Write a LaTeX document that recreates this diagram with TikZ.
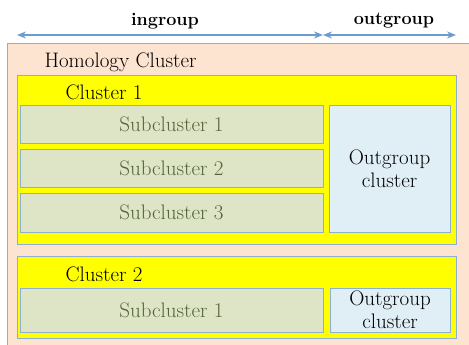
\documentclass[tikz,border=0pt]{standalone}
\usetikzlibrary{arrows.meta}
\definecolor{peach}{HTML}{FCE4D0}
\definecolor{ylw}{HTML}{FFFF00}
\definecolor{subfill}{HTML}{DDE5C6}
\definecolor{subtext}{HTML}{55633A}
\definecolor{outfill}{HTML}{E0EFF6}
\definecolor{edge}{HTML}{8DB0D0}
\definecolor{arr}{HTML}{6C9BCF}
\begin{document}
\begin{tikzpicture}[x=1pt,y=-1pt,
  box/.style={draw=edge,line width=0.8pt},
  subbox/.style={box,fill=subfill},
  outbox/.style={box,fill=outfill},
  clbox/.style={box,fill=ylw},
  subtxt/.style={text=subtext,font=\fontsize{21}{23}\selectfont},
  otxt/.style={align=center,font=\fontsize{21}{23}\selectfont},
  lbl/.style={font=\fontsize{21}{23}\selectfont,anchor=west},
  hdr/.style={font=\bfseries\fontsize{18}{20}\selectfont},
  dim/.style={{Stealth[length=9pt,width=7pt]}-{Stealth[length=9pt,width=7pt]},draw=arr,line width=1.6pt}]
\useasboundingbox (0,0) rectangle (469,345);
\fill[peach] (7,43) rectangle (469,345);
\draw[edge,line width=0.8pt] (7,345) -- (7,43) -- (469,43);
% Cluster 1
\draw[clbox] (17,75) rectangle (456,244);
\node[lbl] (c1) at (62,92) {Cluster 1};
\draw[subbox] (20,105) rectangle node[subtxt] (s1) {Subcluster 1} (323,143);
\draw[subbox] (20,149) rectangle node[subtxt] (s2) {Subcluster 2} (323,187);
\draw[subbox] (20,193) rectangle node[subtxt] (s3) {Subcluster 3} (323,232);
\draw[outbox] (329,105) rectangle node[otxt] (o1) {Outgroup\\cluster} (450,232);
% Cluster 2
\draw[clbox] (17,256) rectangle (456,338);
\node[lbl] (c2) at (62,274) {Cluster 2};
\draw[subbox] (20,288) rectangle node[subtxt] (s4) {Subcluster 1} (323,332);
\draw[outbox] (330,288) rectangle node[otxt] (o2) {Outgroup\\cluster} (450,332);
% Homology label
\node[lbl] (hc) at (41,62) {Homology Cluster};
% dimension arrows
\coordinate (a0) at (17,35);
\coordinate (a1) at (323,35);
\coordinate (a2) at (456,35);
\draw[dim] (a0) -- (a1);
\draw[dim] (a1) -- (a2);
\node[hdr] (ig) at (165,21) {ingroup};
\node[hdr] (og) at (394,21) {outgroup};
\end{tikzpicture}
\end{document}
